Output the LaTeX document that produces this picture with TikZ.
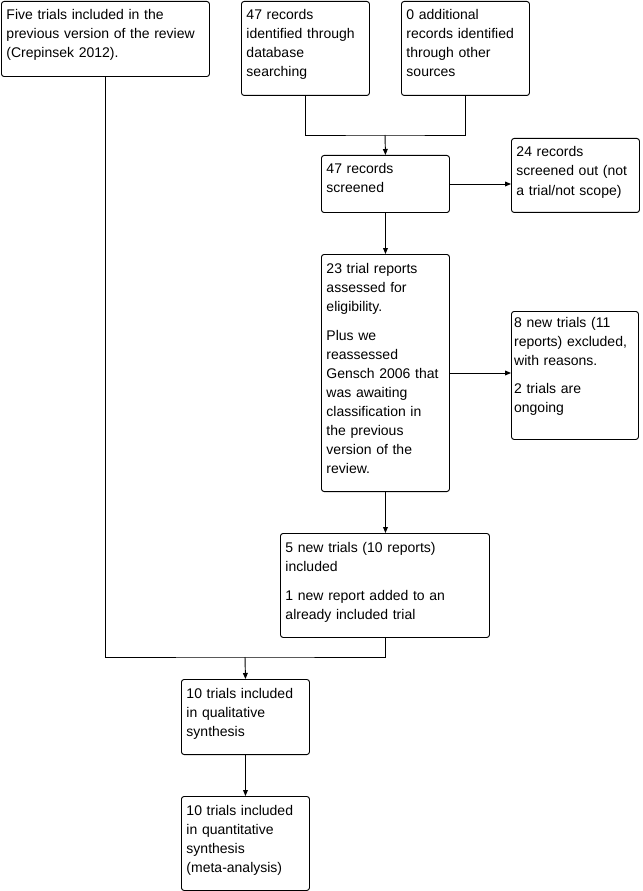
\documentclass[tikz,border=0pt]{standalone}
\usepackage{fontspec}
\setmainfont{Liberation Sans}
\usepackage{tikz}
\usetikzlibrary{arrows.meta, positioning, calc}
\tikzset{
	flowbox/.style={
			draw=black,
			line width=0.7pt,
			rounded corners=2pt,
			anchor=north west,
			align=left,
			inner xsep=3.75pt,
			inner ysep=0pt,
			text height=13.9pt,
			font=\fontsize{10.5}{14.25}\selectfont
		},
	narrowbox/.style={
			flowbox,
			text width=88.5pt
		},
	widebox/.style={
			flowbox,
			text width=148.5pt
		},
	flowline/.style={
			draw=black,
			line width=0.7pt
		},
	flowarrow/.style={
			flowline,
			-{Triangle[length=4.5pt,width=3.6pt]}
		}
}
\begin{document}
\begin{tikzpicture}[x=0.75pt, y=-0.75pt]
				\useasboundingbox (0,0) rectangle (642,891);

				\node[widebox, text depth=42.4pt] (prevrev) at (1, 1) {Five trials included in the\\previous version of the review\\(Crepinsek 2012).};
				\node[narrowbox, text depth=56.6pt] (dbsearch) at (241, 1) {47 records\\identified through\\database\\searching};
				\node[narrowbox, text depth=56.6pt] (othersrc) at (401, 1) {0 additional\\records identified\\through other\\sources};

				\node[narrowbox, text depth=28.9pt] (screened) at (321, 155) {47 records\\screened};
				\node[narrowbox, text depth=41.6pt] (screenout) at (511, 138) {24 records\\screened out (not\\a trial/not scope)};

				\node[narrowbox, text depth=163.9pt] (assessed) at (321, 254) {23 trial reports\\assessed for\\eligibility.\\[7.5pt]Plus we\\reassessed\\Gensch 2006 that\\was awaiting\\classification in\\the previous\\version of the\\review.};
				\node[flowbox, inner xsep=2pt, text width=91.25pt, text height=12pt, text depth=84pt] (excluded) at (511, 311) {8 new trials (11\\reports) excluded,\\with reasons.\\[7pt]2 trials are\\ongoing};

				\node[flowbox, text width=149.25pt, text depth=64.1pt] (newincl) at (280, 533) {5 new trials (10 reports)\\included\\[7.5pt]1 new report added to an\\already included trial};

				\node[narrowbox, text depth=42.4pt] (qualsyn) at (181, 679) {10 trials included\\in qualitative\\synthesis};
				\node[narrowbox, text depth=56.6pt] (quantsyn) at (181, 796) {10 trials included\\in quantitative\\synthesis\\(meta-analysis)};

				\coordinate (srcjoin) at (385, 135);
				\coordinate (incljoin) at (245, 657);

				\draw[flowline] (dbsearch.south) |- (srcjoin) -| (othersrc.south);
				\draw[flowarrow] (srcjoin) -- (screened.north);
				\draw[flowarrow] (screened.east) -- (screened.east -| screenout.west);
				\draw[flowarrow] (screened.south) -- (assessed.north);
				\draw[flowarrow] (assessed.east) -- (assessed.east -| excluded.west);
				\draw[flowarrow] (assessed.south) -- (assessed.south |- newincl.north);

				\draw[flowline] (prevrev.south) |- (incljoin) -| (newincl.south);
				\draw[flowarrow] (incljoin) -- (qualsyn.north);
				\draw[flowarrow] (qualsyn.south) -- (quantsyn.north);
\end{tikzpicture}
\end{document}
